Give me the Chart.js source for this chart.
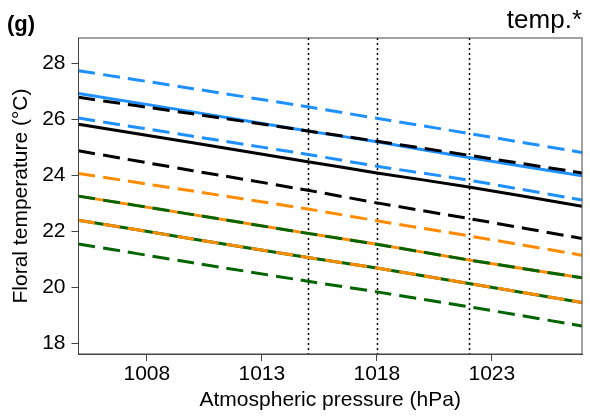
<!DOCTYPE html>
<html>
<head>
<meta charset="utf-8">
<script src="https://cdn.jsdelivr.net/npm/chart.js@4"></script>
<style>
html,body{margin:0;padding:0;background:#fff;}
#wrap{width:590px;height:416px;position:relative;}
</style>
</head>
<body>
<div id="wrap"><canvas id="c" width="590" height="416"></canvas></div>
<script>
// x positions (hPa) at which values were read
const pressure = [1005.03, 1010, 1015, 1018, 1022, 1026.92];
// Blue group
const blueUpper = [27.74, 27.10, 26.45, 26.04, 25.50, 24.82];
const blueMean  = [26.93, 26.27, 25.59, 25.20, 24.64, 23.99];
const blueLower = [26.05, 25.40, 24.75, 24.33, 23.83, 23.12];
// Black group
const blackUpper = [26.79, 26.20, 25.59, 25.22, 24.72, 24.09];
const blackMean  = [25.83, 25.17, 24.49, 24.09, 23.59, 22.90];
const blackLower = [24.88, 24.17, 23.47, 23.02, 22.46, 21.75];
// Orange group
const orangeUpper = [24.07, 23.44, 22.80, 22.38, 21.84, 21.15];
const orangeMean  = [23.26, 22.60, 21.93, 21.54, 20.98, 20.34];
const orangeLower = [22.40, 21.73, 21.07, 20.69, 20.14, 19.46];
// Green group
const greenUpper = [23.26, 22.60, 21.93, 21.54, 20.98, 20.34];
const greenMean  = [22.40, 21.73, 21.07, 20.69, 20.14, 19.46];
const greenLower = [21.55, 20.88, 20.22, 19.84, 19.31, 18.62];
// reference pressures (dotted verticals)
const refPressures = [1015, 1018, 1022];
// tick labels
const xTicks = [1008, 1013, 1018, 1023];
const yTicks = [18, 20, 22, 24, 26, 28];

const COL = {blue:'#1E90FF', black:'#000000', orange:'#FF8C00', green:'#006400'};
const pts = arr => arr.map((v,i)=>({x:pressure[i], y:v}));
function ds(arr, color, dashed){
  return {data: pts(arr), borderColor: color, borderWidth: 3,
    borderDash: dashed ? [17,8] : [], pointRadius: 0, tension: 0.2,
    fill: false, order: dashed ? 0 : 1, borderCapStyle: 'butt'};
}

const FONT = '"Liberation Sans", Arial, sans-serif';

const overlay = {
  id: 'overlay',
  beforeDatasetsDraw(chart){
    const {ctx, chartArea:a, scales:{x}} = chart;
    ctx.save();
    ctx.strokeStyle = '#000'; ctx.lineWidth = 1.5; ctx.setLineDash([2,3]);
    refPressures.forEach(p=>{
      const px = Math.round(x.getPixelForValue(p)) + 0.5;
      ctx.beginPath(); ctx.moveTo(px, a.top); ctx.lineTo(px, a.bottom); ctx.stroke();
    });
    ctx.restore();
  },
  afterDraw(chart){
    const {ctx, chartArea:a} = chart;
    ctx.save();
    ctx.strokeStyle = '#444'; ctx.lineWidth = 1; ctx.setLineDash([]);
    ctx.strokeRect(a.left, a.top, a.right - a.left, a.bottom - a.top);
    ctx.fillStyle = '#000';
    ctx.textBaseline = 'alphabetic';
    ctx.font = 'bold 22px ' + FONT; ctx.textAlign = 'left';
    ctx.fillText('(g)', 7, 31);
    ctx.font = '26px ' + FONT; ctx.textAlign = 'right';
    ctx.fillText('temp.*', 582, 28);
    ctx.restore();
  }
};

new Chart(document.getElementById('c'), {
  type: 'line',
  data: { datasets: [
    ds(blueUpper, COL.blue, true), ds(blueMean, COL.blue, false), ds(blueLower, COL.blue, true),
    ds(blackUpper, COL.black, true), ds(blackMean, COL.black, false), ds(blackLower, COL.black, true),
    ds(orangeUpper, COL.orange, true), ds(orangeMean, COL.orange, false), ds(orangeLower, COL.orange, true),
    ds(greenUpper, COL.green, true), ds(greenMean, COL.green, false), ds(greenLower, COL.green, true)
  ]},
  options: {
    responsive: false, animation: false,
    layout: {padding: {top: 38, right: 8, left: 0, bottom: 0}},
    plugins: {legend: {display: false}, tooltip: {enabled: false}, title: {display: false}},
    scales: {
      x: {
        type: 'linear', min: 1005.03, max: 1026.92,
        afterBuildTicks: s => { s.ticks = xTicks.map(v=>({value:v})); },
        afterFit: s => { s.height = 62; },
        grid: {drawOnChartArea: false, drawTicks: true, tickLength: 7, color: '#444'},
        border: {display: true, color: '#444'},
        ticks: {color: '#000', font: {family: FONT, size: 21}, padding: 1, maxRotation: 0, autoSkip: false,
                callback: v => String(v)},
        title: {display: true, text: 'Atmospheric pressure (hPa)', color: '#000',
                font: {family: FONT, size: 21}, padding: {top: 0, bottom: 3}}
      },
      y: {
        type: 'linear', min: 17.62, max: 28.91,
        afterBuildTicks: s => { s.ticks = yTicks.map(v=>({value:v})); },
        afterFit: s => { s.width = 78.5; },
        grid: {drawOnChartArea: false, drawTicks: true, tickLength: 7, color: '#444'},
        border: {display: true, color: '#444'},
        ticks: {color: '#000', font: {family: FONT, size: 21}, padding: 6, autoSkip: false,
                callback: v => String(v)},
        title: {display: true, text: 'Floral temperature (°C)', color: '#000',
                font: {family: FONT, size: 21}, padding: {top: 9, bottom: 0}}
      }
    }
  },
  plugins: [overlay]
});
</script>
</body>
</html>
